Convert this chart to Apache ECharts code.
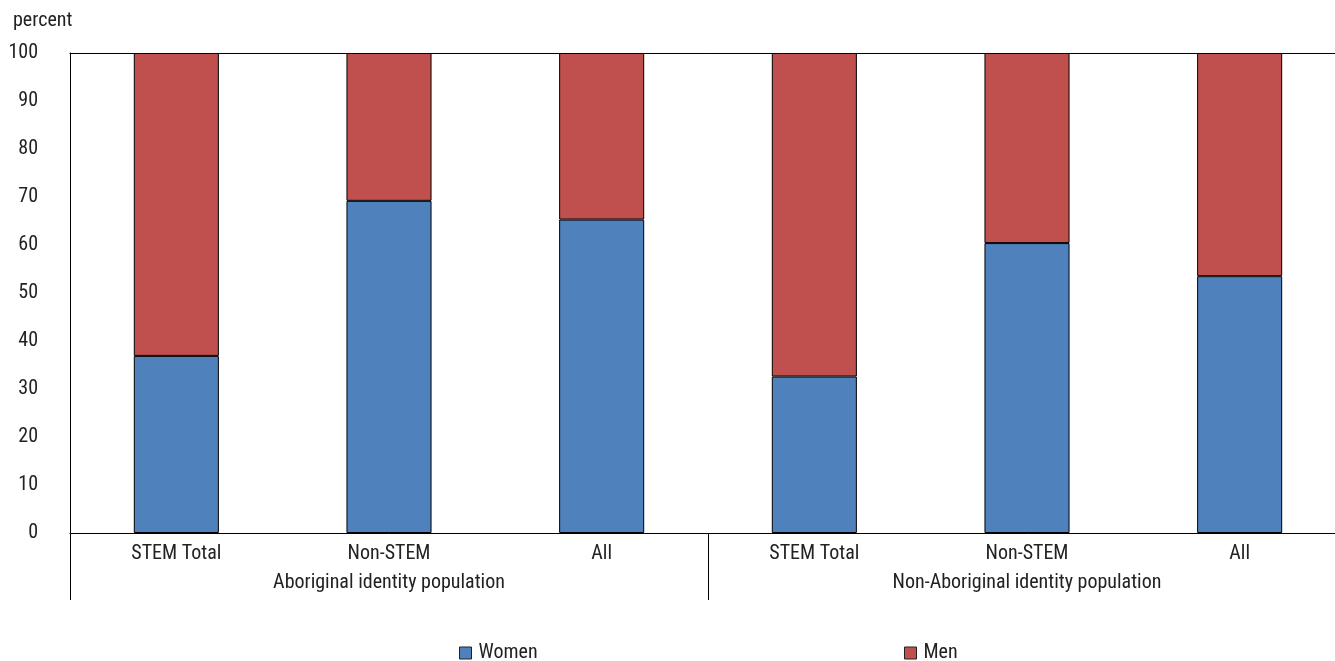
<!DOCTYPE html>
<html>
<head>
<meta charset="utf-8">
<script src="https://cdn.jsdelivr.net/npm/echarts@6/dist/echarts.min.js"></script>
<style>
  html, body { margin: 0; padding: 0; background: #fff; overflow: hidden; }
  /* the plot runs a little past the right edge of the window */
  #chart { width: 1346px; height: 661px; }
</style>
</head>
<body>
<div id="chart"></div>
<script>
// Share of graduates by field and sex, stacked to 100 percent
const categories = ['STEM Total', 'Non-STEM', 'All', 'STEM Total', 'Non-STEM', 'All'];
const groups = ['Aboriginal identity population', 'Non-Aboriginal identity population'];
const women = [36.9, 69.2, 65.3, 32.6, 60.4, 53.5];
const men = women.map(v => +(100 - v).toFixed(1));
const yTicks = { min: 0, max: 100, step: 10 };

const FONT = '"Liberation Sans Narrow", "Arial Narrow", "Roboto Condensed", Roboto, sans-serif';
const TEXT = '#222';
const FS = 20;

const legendText = { fontFamily: FONT, fontSize: FS, color: TEXT, padding: [0, 0, 0, 2] };
const legendIcon = { itemStyle: { borderColor: '#222', borderWidth: 1 } };

const chart = echarts.init(document.getElementById('chart'));
chart.setOption({
  animation: false,
  textStyle: { fontFamily: FONT, color: TEXT },
  title: {
    text: 'percent', left: 8, top: 6,
    textStyle: { fontFamily: FONT, fontSize: FS, fontWeight: 'normal', color: TEXT }
  },
  grid: { left: 70, right: 0, top: 53, bottom: 128, containLabel: false },
  legend: [
    {
      left: 459, top: 643, padding: 0, itemWidth: 12, itemHeight: 12, icon: 'rect',
      textStyle: legendText,
      data: [Object.assign({ name: 'Women' }, legendIcon)]
    },
    {
      left: 904, top: 643, padding: 0, itemWidth: 12, itemHeight: 12, icon: 'rect',
      textStyle: legendText,
      data: [Object.assign({ name: 'Men' }, legendIcon)]
    }
  ],
  xAxis: [
    {
      type: 'category', data: categories, position: 'bottom',
      axisLine: { lineStyle: { color: '#000', width: 1 } },
      axisTick: { show: false },
      axisLabel: { fontFamily: FONT, fontSize: FS, color: TEXT, margin: 11, interval: 0 }
    },
    {
      type: 'category', data: groups, position: 'bottom', gridIndex: 0,
      axisLine: { show: false },
      axisTick: { show: true, length: 67, lineStyle: { color: '#000', width: 1 } },
      axisLabel: { fontFamily: FONT, fontSize: FS, color: TEXT, margin: 40, interval: 0 }
    },
    {
      type: 'category', data: categories, position: 'top', gridIndex: 0,
      axisLine: { show: true, lineStyle: { color: '#000', width: 1 } },
      axisTick: { show: false }, axisLabel: { show: false }
    }
  ],
  yAxis: {
    type: 'value', min: yTicks.min, max: yTicks.max, interval: yTicks.step,
    axisLine: { show: true, lineStyle: { color: '#000', width: 1 } },
    axisTick: { show: false },
    splitLine: { show: false },
    axisLabel: { fontFamily: FONT, fontSize: FS, color: TEXT, margin: 32 }
  },
  series: [
    {
      name: 'Women', type: 'bar', stack: 'total', data: women, barWidth: '40%',
      itemStyle: { color: '#4F81BD', borderColor: '#000', borderWidth: 1 }
    },
    {
      name: 'Men', type: 'bar', stack: 'total', data: men, barWidth: '40%',
      itemStyle: { color: '#C0504D', borderColor: '#000', borderWidth: 1 }
    }
  ]
});
</script>
</body>
</html>
